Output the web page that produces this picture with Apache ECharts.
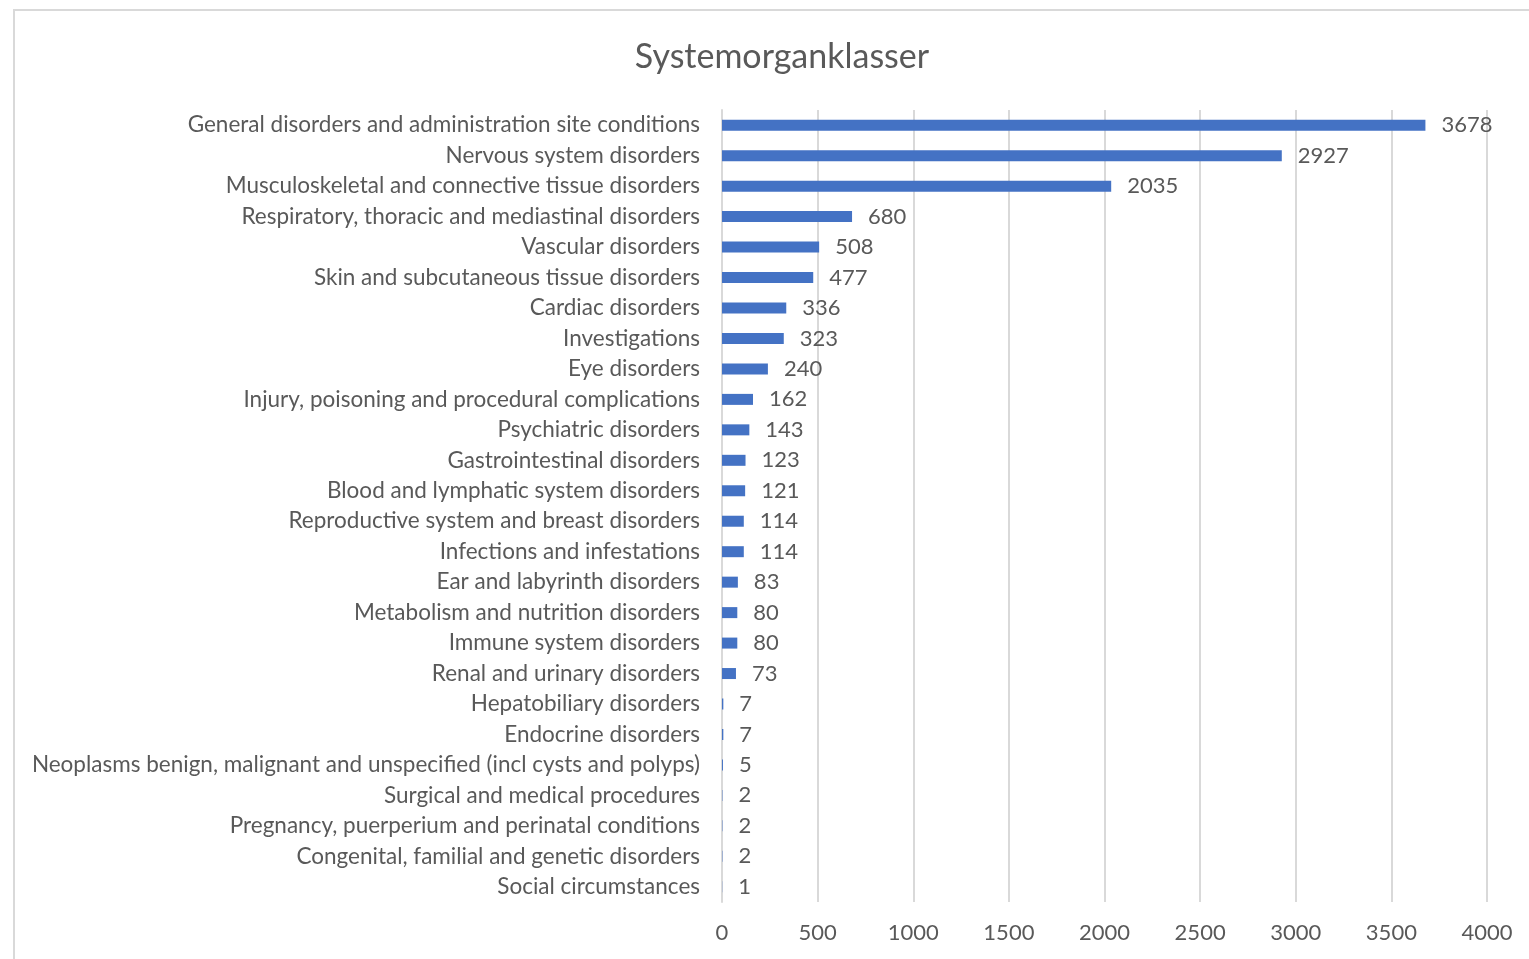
<!DOCTYPE html>
<html>
<head>
<meta charset="utf-8">
<script src="https://cdn.jsdelivr.net/npm/echarts@6/dist/echarts.min.js"></script>
<style>
html, body { margin: 0; padding: 0; background: #fff; }
#chart { width: 1529px; height: 959px; }
</style>
</head>
<body>
<div id="chart"></div>
<script>
var categories = [
    'General disorders and administration site conditions',
    'Nervous system disorders',
    'Musculoskeletal and connective tissue disorders',
    'Respiratory, thoracic and mediastinal disorders',
    'Vascular disorders',
    'Skin and subcutaneous tissue disorders',
    'Cardiac disorders',
    'Investigations',
    'Eye disorders',
    'Injury, poisoning and procedural complications',
    'Psychiatric disorders',
    'Gastrointestinal disorders',
    'Blood and lymphatic system disorders',
    'Reproductive system and breast disorders',
    'Infections and infestations',
    'Ear and labyrinth disorders',
    'Metabolism and nutrition disorders',
    'Immune system disorders',
    'Renal and urinary disorders',
    'Hepatobiliary disorders',
    'Endocrine disorders',
    'Neoplasms benign, malignant and unspecified (incl cysts and polyps)',
    'Surgical and medical procedures',
    'Pregnancy, puerperium and perinatal conditions',
    'Congenital, familial and genetic disorders',
    'Social circumstances'
];
var counts = [3678, 2927, 2035, 680, 508, 477, 336, 323, 240, 162, 143, 123, 121, 114, 114, 83, 80, 80, 73, 7, 7, 5, 2, 2, 2, 1];
var xTicks = [0, 500, 1000, 1500, 2000, 2500, 3000, 3500, 4000];

var fontName = 'Lato';
var textColor = '#595959';

var myChart = echarts.init(document.getElementById('chart'));
var option = {
    animation: false,
    title: {
        text: 'Systemorganklasser',
        left: 777,
        top: 35,
        textAlign: 'center',
        textStyle: { fontFamily: fontName, fontSize: 34, fontWeight: 'normal', color: textColor }
    },
    graphic: [{
        type: 'rect',
        shape: { x: 14, y: 10, width: 1540, height: 970 },
        style: { fill: 'none', stroke: '#d9d9d9', lineWidth: 2 },
        silent: true
    }],
    grid: { left: 722, right: 42, top: 110, bottom: 57 },
    xAxis: {
        type: 'value',
        min: xTicks[0],
        max: xTicks[xTicks.length - 1],
        interval: 500,
        axisLine: { show: false },
        axisTick: { show: false },
        axisLabel: {
            fontFamily: fontName, fontSize: 22, color: textColor, margin: 20,
            formatter: function (v) { return String(v); }
        },
        splitLine: { lineStyle: { color: '#d9d9d9', width: 2 } }
    },
    yAxis: {
        type: 'category',
        data: categories,
        inverse: true,
        axisLine: { show: true, lineStyle: { color: '#d9d9d9', width: 2 } },
        axisTick: { show: false },
        axisLabel: { fontFamily: fontName, fontSize: 22.5, color: textColor, margin: 22 }
    },
    series: [{
        type: 'bar',
        data: counts,
        barWidth: 11,
        itemStyle: { color: '#4472c4' },
        label: {
            show: true,
            position: 'right',
            distance: 16,
            fontFamily: fontName,
            fontSize: 22,
            color: textColor
        }
    }]
};
myChart.setOption(option);
</script>
</body>
</html>
